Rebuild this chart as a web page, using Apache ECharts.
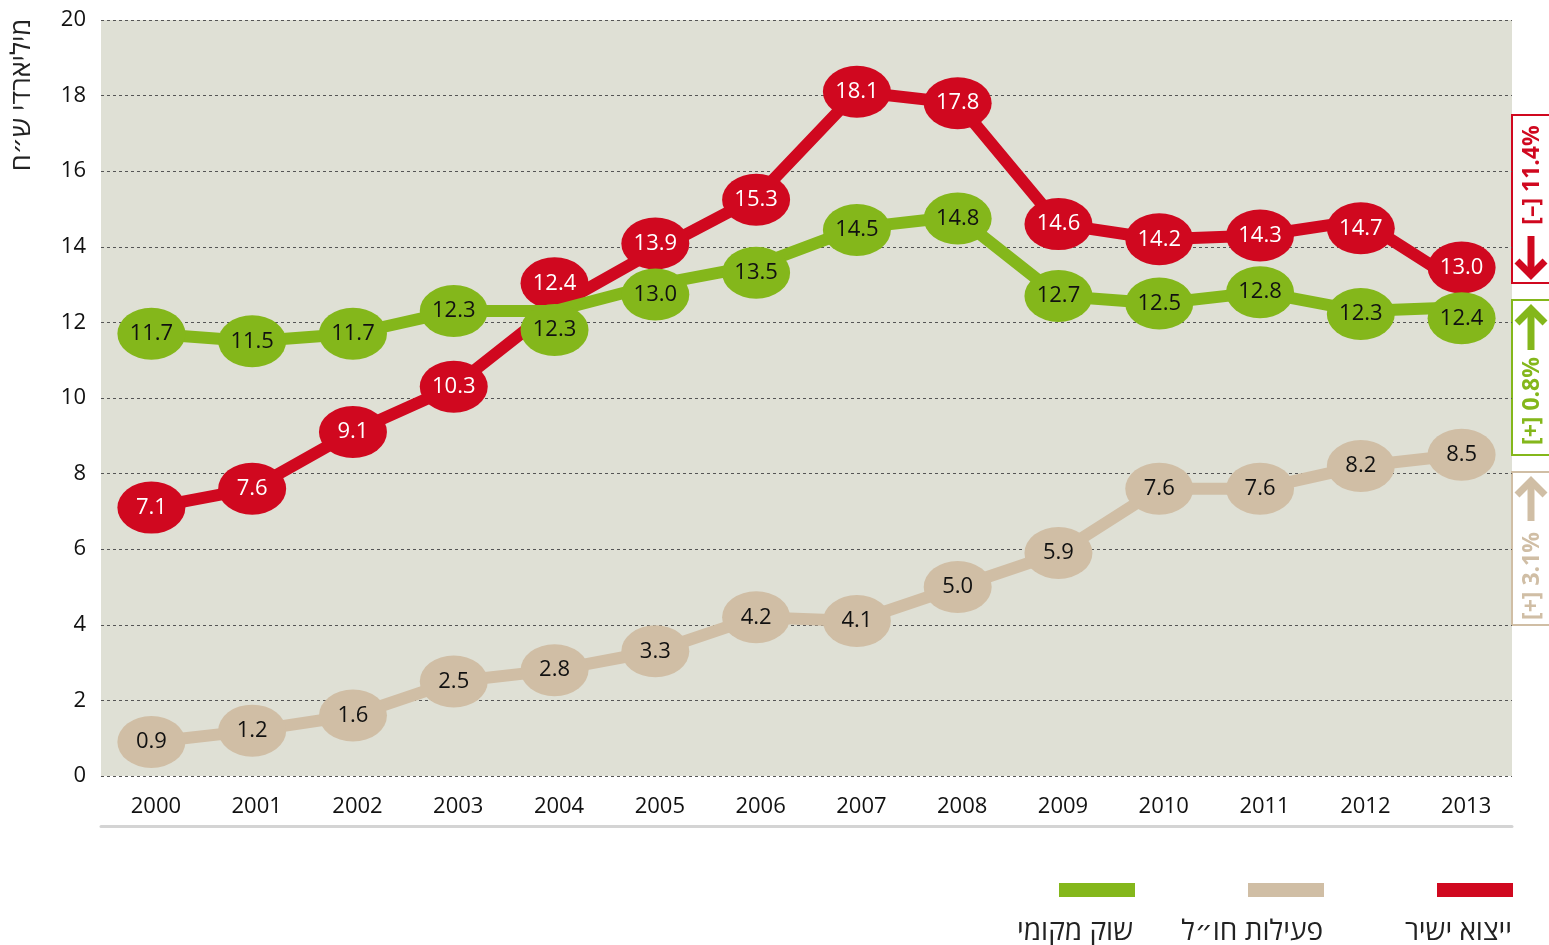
<!DOCTYPE html>
<html>
<head>
<meta charset="utf-8">
<script src="https://cdn.jsdelivr.net/npm/echarts@6/dist/echarts.min.js"></script>
<style>
  html, body { margin: 0; padding: 0; background: #fff; }
  #chart { width: 1549px; height: 945px; }
</style>
</head>
<body>
<div id="chart"></div>
<script>
const years = ['2000', '2001', '2002', '2003', '2004', '2005', '2006', '2007', '2008', '2009', '2010', '2011', '2012', '2013']
const directExport = [7.1, 7.6, 9.1, 10.3, 12.4, 13.9, 15.3, 18.1, 17.8, 14.6, 14.2, 14.3, 14.7, 13.0]
const abroadActivity = [0.9, 1.2, 1.6, 2.5, 2.8, 3.3, 4.2, 4.1, 5.0, 5.9, 7.6, 7.6, 8.2, 8.5]
const localMarket = [11.7, 11.5, 11.7, 12.3, 12.3, 13.0, 13.5, 14.5, 14.8, 12.7, 12.5, 12.8, 12.3, 12.4]
const seriesNames = ['ייצוא ישיר', 'פעילות חו״ל', 'שוק מקומי']
const changeLabels = ['[–] 11.4%', '[+] 0.8%', '[+] 3.1%']

const RED = '#d0081f'
const GREEN = '#84b71b'
const TAN = '#d0bea5'
const FONT = "'Open Sans', 'DejaVu Sans', sans-serif"

// markers nudged apart where two series crowd each other (index -> px)
const redShift = { 4: -24, 5: -7, 6: 2, 12: 8, 13: -17 }
const greenShift = { 4: 19, 5: 10, 6: 7, 7: 2, 8: 2, 12: 3, 13: 11 }

const toItems = (values, shift) => values.map((v, i) => {
  const dy = shift[i] || 0
  if (!dy) return v
  return { value: v, symbolOffset: [0, dy] }
})

const lineSeries = (name, values, color, textColor, shift, z) => ({
  name,
  type: 'line',
  data: toItems(values, shift),
  z,
  symbol: 'circle',
  symbolSize: [68, 52],
  lineStyle: { width: 12, color },
  itemStyle: { color },
  label: {
    show: true,
    position: 'inside',
    color: textColor,
    fontSize: 22,
    fontFamily: FONT,
    formatter: (p) => Number(p.value).toFixed(1)
  },
  emphasis: { disabled: true },
  animation: false
})

const arrow = (cx, y1, y2, color) => {
  const dir = y2 > y1 ? 1 : -1
  return [
    { type: 'line', shape: { x1: cx, y1, x2: cx, y2: y2 - dir * 4 }, style: { stroke: color, lineWidth: 7 } },
    { type: 'polyline', shape: { points: [[cx - 14, y2 - dir * 16], [cx, y2 - dir * 2], [cx + 14, y2 - dir * 16]] }, style: { stroke: color, lineWidth: 7, fill: null } }
  ]
}

const box = (y1, y2, color, label, textY, arrowFrom, arrowTo) => [
  { type: 'rect', shape: { x: 1512, y: y1, width: 40, height: y2 - y1 }, style: { fill: '#fff', stroke: color, lineWidth: 2 } },
  {
    type: 'text', x: 1532, y: textY, rotation: Math.PI / 2,
    style: { text: label, fill: color, font: 'bold 23px ' + FONT, align: 'center', verticalAlign: 'middle' }
  },
  ...arrow(1531, arrowFrom, arrowTo, color)
]

const legendText = (x, text) => ({
  type: 'text', x, y: 932,
  style: { text, fill: '#222', font: '28px ' + FONT, align: 'right', verticalAlign: 'middle' }
})

const legendItem = (left, name, color) => ({
  left, top: 878,
  data: [{ name, icon: 'rect', itemStyle: { color } }],
  itemWidth: 76, itemHeight: 14,
  formatter: () => '',
  selectedMode: false
})

const chart = echarts.init(document.getElementById('chart'))
chart.setOption({
  backgroundColor: '#fff',
  animation: false,
  grid: {
    left: 101, right: 37, top: 20, bottom: 169,
    show: true, backgroundColor: '#dfe0d5', borderWidth: 0
  },
  legend: [
    legendItem(1432, seriesNames[0], RED),
    legendItem(1243, seriesNames[1], TAN),
    legendItem(1054, seriesNames[2], GREEN)
  ],
  xAxis: [
    {
      type: 'category',
      data: years,
      boundaryGap: true,
      axisLine: { show: false },
      axisTick: { show: false },
      axisLabel: { color: '#111', fontSize: 22, fontFamily: FONT, margin: 20, padding: [0, 0, 0, 9] }
    },
    {
      type: 'category',
      data: years,
      position: 'bottom',
      offset: 50,
      axisLine: { show: true, lineStyle: { color: '#d4d4d4', width: 3 } },
      axisTick: { show: false },
      axisLabel: { show: false }
    }
  ],
  yAxis: {
    type: 'value',
    min: 0, max: 20, interval: 2,
    axisLine: { show: false },
    axisTick: { show: false },
    axisLabel: { color: '#111', fontSize: 22, fontFamily: FONT, margin: 15 },
    splitLine: { lineStyle: { color: '#555', type: [3, 3], width: 1 } }
  },
  series: [
    lineSeries(seriesNames[1], abroadActivity, TAN, '#111', {}, 2),
    lineSeries(seriesNames[0], directExport, RED, '#fff', redShift, 3),
    lineSeries(seriesNames[2], localMarket, GREEN, '#111', greenShift, 4)
  ],
  graphic: [
    {
      type: 'text', x: 22, y: 95, rotation: Math.PI / 2,
      style: { text: 'מיליארדי ש״ח', fill: '#222', font: '27px ' + FONT, align: 'center', verticalAlign: 'middle' }
    },
    ...box(115, 283, RED, changeLabels[0], 175, 236, 277),
    ...box(300, 455, GREEN, changeLabels[1], 401, 350, 307),
    ...box(472, 625, TAN, changeLabels[2], 576, 521, 479),
    legendText(1512, seriesNames[0]),
    legendText(1323, seriesNames[1]),
    legendText(1133, seriesNames[2])
  ]
})
</script>
</body>
</html>
